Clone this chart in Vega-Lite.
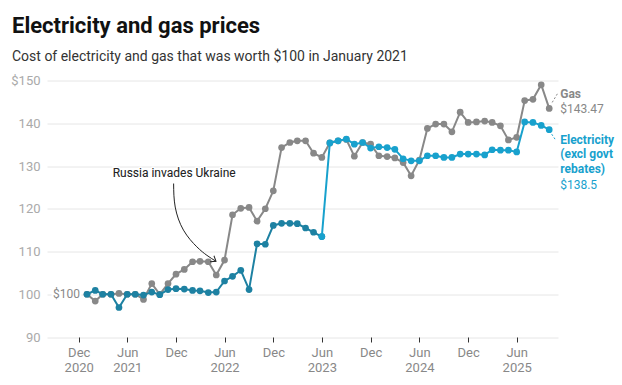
{
  "$schema": "https://vega.github.io/schema/vega-lite/v6.json",
  "width": 511,
  "height": 256.5,
  "autosize": {"type": "none"},
  "padding": {"left": 47, "top": 80.5, "right": 64, "bottom": 48},
  "background": "white",
  "config": {"font": "Roboto", "view": {"stroke": null}},
  "title": {
    "text": "Electricity and gas prices",
    "subtitle": "Cost of electricity and gas that was worth $100 in January 2021",
    "anchor": "start",
    "frame": "group",
    "dx": -35,
    "offset": 10,
    "font": "Roboto",
    "fontSize": 22,
    "fontWeight": "bold",
    "color": "#111111",
    "subtitleFont": "Roboto",
    "subtitleFontSize": 14,
    "subtitleColor": "#333333",
    "subtitlePadding": 12
  },
  "datasets": {
    "prices": [
      {"date": "2021-01-01T00:00", "series": "Gas", "value": 100},
      {"date": "2021-02-01T00:00", "series": "Gas", "value": 98.4},
      {"date": "2021-03-01T00:00", "series": "Gas", "value": 100},
      {"date": "2021-04-01T00:00", "series": "Gas", "value": 100},
      {"date": "2021-05-01T00:00", "series": "Gas", "value": 100.2},
      {"date": "2021-06-01T00:00", "series": "Gas", "value": 100},
      {"date": "2021-07-01T00:00", "series": "Gas", "value": 100},
      {"date": "2021-08-01T00:00", "series": "Gas", "value": 98.8},
      {"date": "2021-09-01T00:00", "series": "Gas", "value": 102.5},
      {"date": "2021-10-01T00:00", "series": "Gas", "value": 100},
      {"date": "2021-11-01T00:00", "series": "Gas", "value": 102.5},
      {"date": "2021-12-01T00:00", "series": "Gas", "value": 104.7},
      {"date": "2022-01-01T00:00", "series": "Gas", "value": 105.8},
      {"date": "2022-02-01T00:00", "series": "Gas", "value": 107.6},
      {"date": "2022-03-01T00:00", "series": "Gas", "value": 107.7},
      {"date": "2022-04-01T00:00", "series": "Gas", "value": 107.6},
      {"date": "2022-05-01T00:00", "series": "Gas", "value": 104.5},
      {"date": "2022-06-01T00:00", "series": "Gas", "value": 108},
      {"date": "2022-07-01T00:00", "series": "Gas", "value": 118.6},
      {"date": "2022-08-01T00:00", "series": "Gas", "value": 120.1},
      {"date": "2022-09-01T00:00", "series": "Gas", "value": 120.3},
      {"date": "2022-10-01T00:00", "series": "Gas", "value": 117.1},
      {"date": "2022-11-01T00:00", "series": "Gas", "value": 120},
      {"date": "2022-12-01T00:00", "series": "Gas", "value": 124.2},
      {"date": "2023-01-01T00:00", "series": "Gas", "value": 134.3},
      {"date": "2023-02-01T00:00", "series": "Gas", "value": 135.5},
      {"date": "2023-03-01T00:00", "series": "Gas", "value": 135.9},
      {"date": "2023-04-01T00:00", "series": "Gas", "value": 135.9},
      {"date": "2023-05-01T00:00", "series": "Gas", "value": 133},
      {"date": "2023-06-01T00:00", "series": "Gas", "value": 132},
      {"date": "2023-07-01T00:00", "series": "Gas", "value": 135.4},
      {"date": "2023-08-01T00:00", "series": "Gas", "value": 135.9},
      {"date": "2023-09-01T00:00", "series": "Gas", "value": 136.2},
      {"date": "2023-10-01T00:00", "series": "Gas", "value": 132.3},
      {"date": "2023-11-01T00:00", "series": "Gas", "value": 135.5},
      {"date": "2023-12-01T00:00", "series": "Gas", "value": 135.1},
      {"date": "2024-01-01T00:00", "series": "Gas", "value": 132.4},
      {"date": "2024-02-01T00:00", "series": "Gas", "value": 132.2},
      {"date": "2024-03-01T00:00", "series": "Gas", "value": 131.9},
      {"date": "2024-04-01T00:00", "series": "Gas", "value": 130.8},
      {"date": "2024-05-01T00:00", "series": "Gas", "value": 127.7},
      {"date": "2024-06-01T00:00", "series": "Gas", "value": 131.4},
      {"date": "2024-07-01T00:00", "series": "Gas", "value": 138.8},
      {"date": "2024-08-01T00:00", "series": "Gas", "value": 139.8},
      {"date": "2024-09-01T00:00", "series": "Gas", "value": 139.8},
      {"date": "2024-10-01T00:00", "series": "Gas", "value": 138},
      {"date": "2024-11-01T00:00", "series": "Gas", "value": 142.6},
      {"date": "2024-12-01T00:00", "series": "Gas", "value": 140.2},
      {"date": "2025-01-01T00:00", "series": "Gas", "value": 140.3},
      {"date": "2025-02-01T00:00", "series": "Gas", "value": 140.5},
      {"date": "2025-03-01T00:00", "series": "Gas", "value": 140.2},
      {"date": "2025-04-01T00:00", "series": "Gas", "value": 139.4},
      {"date": "2025-05-01T00:00", "series": "Gas", "value": 136.1},
      {"date": "2025-06-01T00:00", "series": "Gas", "value": 136.7},
      {"date": "2025-07-01T00:00", "series": "Gas", "value": 145.3},
      {"date": "2025-08-01T00:00", "series": "Gas", "value": 145.6},
      {"date": "2025-09-01T00:00", "series": "Gas", "value": 149},
      {"date": "2025-10-01T00:00", "series": "Gas", "value": 143.47},
      {"date": "2021-01-01T00:00", "series": "Electricity", "value": 100},
      {"date": "2021-02-01T00:00", "series": "Electricity", "value": 100.9},
      {"date": "2021-03-01T00:00", "series": "Electricity", "value": 100},
      {"date": "2021-04-01T00:00", "series": "Electricity", "value": 100},
      {"date": "2021-05-01T00:00", "series": "Electricity", "value": 96.9},
      {"date": "2021-06-01T00:00", "series": "Electricity", "value": 100},
      {"date": "2021-07-01T00:00", "series": "Electricity", "value": 100},
      {"date": "2021-08-01T00:00", "series": "Electricity", "value": 99.8},
      {"date": "2021-09-01T00:00", "series": "Electricity", "value": 100.5},
      {"date": "2021-10-01T00:00", "series": "Electricity", "value": 99.9},
      {"date": "2021-11-01T00:00", "series": "Electricity", "value": 101.1},
      {"date": "2021-12-01T00:00", "series": "Electricity", "value": 101.3},
      {"date": "2022-01-01T00:00", "series": "Electricity", "value": 101.2},
      {"date": "2022-02-01T00:00", "series": "Electricity", "value": 100.9},
      {"date": "2022-03-01T00:00", "series": "Electricity", "value": 100.8},
      {"date": "2022-04-01T00:00", "series": "Electricity", "value": 100.4},
      {"date": "2022-05-01T00:00", "series": "Electricity", "value": 100.5},
      {"date": "2022-06-01T00:00", "series": "Electricity", "value": 103.1},
      {"date": "2022-07-01T00:00", "series": "Electricity", "value": 104.2},
      {"date": "2022-08-01T00:00", "series": "Electricity", "value": 105.6},
      {"date": "2022-09-01T00:00", "series": "Electricity", "value": 101.1},
      {"date": "2022-10-01T00:00", "series": "Electricity", "value": 111.8},
      {"date": "2022-11-01T00:00", "series": "Electricity", "value": 111.7},
      {"date": "2022-12-01T00:00", "series": "Electricity", "value": 116.1},
      {"date": "2023-01-01T00:00", "series": "Electricity", "value": 116.6},
      {"date": "2023-02-01T00:00", "series": "Electricity", "value": 116.6},
      {"date": "2023-03-01T00:00", "series": "Electricity", "value": 116.5},
      {"date": "2023-04-01T00:00", "series": "Electricity", "value": 115.5},
      {"date": "2023-05-01T00:00", "series": "Electricity", "value": 114.5},
      {"date": "2023-06-01T00:00", "series": "Electricity", "value": 113.5},
      {"date": "2023-07-01T00:00", "series": "Electricity", "value": 135.4},
      {"date": "2023-08-01T00:00", "series": "Electricity", "value": 135.9},
      {"date": "2023-09-01T00:00", "series": "Electricity", "value": 136.3},
      {"date": "2023-10-01T00:00", "series": "Electricity", "value": 135.1},
      {"date": "2023-11-01T00:00", "series": "Electricity", "value": 135.5},
      {"date": "2023-12-01T00:00", "series": "Electricity", "value": 134.2},
      {"date": "2024-01-01T00:00", "series": "Electricity", "value": 134.5},
      {"date": "2024-02-01T00:00", "series": "Electricity", "value": 134.3},
      {"date": "2024-03-01T00:00", "series": "Electricity", "value": 133.9},
      {"date": "2024-04-01T00:00", "series": "Electricity", "value": 131.7},
      {"date": "2024-05-01T00:00", "series": "Electricity", "value": 131.2},
      {"date": "2024-06-01T00:00", "series": "Electricity", "value": 131.2},
      {"date": "2024-07-01T00:00", "series": "Electricity", "value": 132.4},
      {"date": "2024-08-01T00:00", "series": "Electricity", "value": 132.4},
      {"date": "2024-09-01T00:00", "series": "Electricity", "value": 132},
      {"date": "2024-10-01T00:00", "series": "Electricity", "value": 132},
      {"date": "2024-11-01T00:00", "series": "Electricity", "value": 132.8},
      {"date": "2024-12-01T00:00", "series": "Electricity", "value": 132.8},
      {"date": "2025-01-01T00:00", "series": "Electricity", "value": 132.8},
      {"date": "2025-02-01T00:00", "series": "Electricity", "value": 132.6},
      {"date": "2025-03-01T00:00", "series": "Electricity", "value": 133.8},
      {"date": "2025-04-01T00:00", "series": "Electricity", "value": 133.7},
      {"date": "2025-05-01T00:00", "series": "Electricity", "value": 133.7},
      {"date": "2025-06-01T00:00", "series": "Electricity", "value": 133.3},
      {"date": "2025-07-01T00:00", "series": "Electricity", "value": 140.3},
      {"date": "2025-08-01T00:00", "series": "Electricity", "value": 140.2},
      {"date": "2025-09-01T00:00", "series": "Electricity", "value": 139.5},
      {"date": "2025-10-01T00:00", "series": "Electricity", "value": 138.5}
    ],
    "arrow": [
      {"date": "2021-11-22T00:00", "value": 125.9},
      {"date": "2021-11-28T00:00", "value": 120.4},
      {"date": "2021-12-29T00:00", "value": 115.0},
      {"date": "2022-02-17T00:00", "value": 111.1},
      {"date": "2022-03-27T00:00", "value": 109.1},
      {"date": "2022-04-30T00:00", "value": 107.7}
    ],
    "arrowTip": [
      {"date": "2022-04-30T00:00", "value": 107.7}
    ],
    "note": [
      {"date": "2021-11-24T00:00", "value": 128.3, "text": "Russia invades Ukraine"}
    ]
  },
  "encoding": {
    "x": {
      "field": "date",
      "type": "temporal",
      "scale": {"domain": [{"year": 2020, "month": 8, "date": 4}, {"year": 2025, "month": 11, "date": 3}]},
      "axis": {
        "title": null,
        "orient": "bottom",
        "domain": false,
        "grid": false,
        "ticks": true,
        "tickColor": "#333333",
        "tickSize": 5,
        "tickWidth": 1,
        "labelColor": "#888888",
        "labelFontSize": 13,
        "labelPadding": 4,
        "labelLineHeight": 15,
        "labelBaseline": "top",
        "values": [
          {"year": 2020, "month": 12, "date": 1},
          {"year": 2021, "month": 6, "date": 1},
          {"year": 2021, "month": 12, "date": 1},
          {"year": 2022, "month": 6, "date": 1},
          {"year": 2022, "month": 12, "date": 1},
          {"year": 2023, "month": 6, "date": 1},
          {"year": 2023, "month": 12, "date": 1},
          {"year": 2024, "month": 6, "date": 1},
          {"year": 2024, "month": 12, "date": 1},
          {"year": 2025, "month": 6, "date": 1}
        ],
        "labelExpr": "month(datum.value) == 11 ? (year(datum.value) == 2020 ? ['Dec', '2020'] : 'Dec') : ['Jun', '' + year(datum.value)]"
      }
    },
    "y": {
      "field": "value",
      "type": "quantitative",
      "scale": {"domain": [90, 150], "nice": false, "zero": false},
      "axis": {
        "title": null,
        "domain": false,
        "ticks": false,
        "grid": true,
        "gridColor": "#e6e6e6",
        "gridWidth": 1,
        "labelColor": "#aaaaaa",
        "labelFontSize": 13,
        "labelPadding": 7,
        "values": [90, 100, 110, 120, 130, 140, 150],
        "labelExpr": "datum.value == 150 ? '$150' : datum.label"
      }
    }
  },
  "layer": [
    {
      "data": {"name": "prices"},
      "transform": [{"filter": {"field": "series", "equal": "Gas"}}],
      "mark": {"type": "line", "color": "#888888", "strokeWidth": 2, "point": {"filled": true, "size": 45, "color": "#888888", "opacity": 1}}
    },
    {
      "data": {"name": "prices"},
      "transform": [
        {"filter": {"field": "series", "equal": "Electricity"}},
        {"filter": {"field": "date", "lte": {"year": 2023, "month": 6, "date": 1}}}
      ],
      "mark": {"type": "line", "color": "#1d81a2", "strokeWidth": 2, "point": {"filled": true, "size": 45, "color": "#1d81a2", "opacity": 1}}
    },
    {
      "data": {"name": "prices"},
      "transform": [
        {"filter": {"field": "series", "equal": "Electricity"}},
        {"filter": {"field": "date", "gte": {"year": 2023, "month": 6, "date": 1}}}
      ],
      "mark": {"type": "line", "color": "#18a1cd", "strokeWidth": 2, "point": {"filled": true, "size": 45, "color": "#18a1cd", "opacity": 1}}
    },
    {
      "data": {"name": "arrow"},
      "mark": {"type": "line", "interpolate": "natural", "color": "#222222", "strokeWidth": 1}
    },
    {
      "data": {"name": "arrowTip"},
      "mark": {"type": "point", "shape": "M-1,-0.75L0,0L-1,0.75", "angle": 33, "size": 90, "filled": false, "stroke": "#222222", "strokeWidth": 1, "opacity": 1}
    },
    {
      "data": {"name": "note"},
      "mark": {"type": "text", "align": "center", "baseline": "middle", "fontSize": 12, "color": "#222222", "stroke": "white", "strokeWidth": 3, "strokeOpacity": 0.9},
      "encoding": {"text": {"field": "text"}}
    },
    {
      "data": {"name": "note"},
      "mark": {"type": "text", "align": "center", "baseline": "middle", "fontSize": 12, "color": "#222222"},
      "encoding": {"text": {"field": "text"}}
    },
    {
      "data": {"name": "prices"},
      "transform": [
        {"filter": {"field": "series", "equal": "Electricity"}},
        {"filter": {"field": "date", "lte": {"year": 2021, "month": 1, "date": 1}}}
      ],
      "mark": {"type": "text", "align": "right", "baseline": "middle", "dx": -7, "fontSize": 12, "color": "white", "stroke": "white", "strokeWidth": 4},
      "encoding": {"text": {"field": "value", "type": "quantitative", "format": "$.0f"}}
    },
    {
      "data": {"name": "prices"},
      "transform": [
        {"filter": {"field": "series", "equal": "Electricity"}},
        {"filter": {"field": "date", "lte": {"year": 2021, "month": 1, "date": 1}}}
      ],
      "mark": {"type": "text", "align": "right", "baseline": "middle", "dx": -7, "fontSize": 12, "color": "#888888"},
      "encoding": {"text": {"field": "value", "type": "quantitative", "format": "$.0f"}}
    },
    {
      "data": {"name": "prices"},
      "transform": [
        {"filter": {"field": "series", "equal": "Gas"}},
        {"filter": {"field": "date", "gte": {"year": 2025, "month": 10, "date": 1}}}
      ],
      "mark": {"type": "rule", "color": "#888888", "strokeWidth": 1, "strokeDash": [2, 2], "xOffset": 3, "yOffset": -6, "x2Offset": 9, "y2Offset": -16},
      "encoding": {"x2": {"field": "date"}, "y2": {"field": "value"}}
    },
    {
      "data": {"name": "prices"},
      "transform": [
        {"filter": {"field": "series", "equal": "Electricity"}},
        {"filter": {"field": "date", "gte": {"year": 2025, "month": 10, "date": 1}}}
      ],
      "mark": {"type": "rule", "color": "#18a1cd", "strokeWidth": 1, "strokeDash": [2, 2], "xOffset": 2.5, "yOffset": 4.5, "x2Offset": 6.5, "y2Offset": 10.5},
      "encoding": {"x2": {"field": "date"}, "y2": {"field": "value"}}
    },
    {
      "data": {"name": "prices"},
      "transform": [
        {"filter": {"field": "series", "equal": "Gas"}},
        {"filter": {"field": "date", "gte": {"year": 2025, "month": 10, "date": 1}}}
      ],
      "mark": {"type": "text", "align": "left", "baseline": "middle", "dx": 11, "dy": -14, "fontSize": 12, "fontWeight": "bold", "color": "#888888", "text": "Gas"}
    },
    {
      "data": {"name": "prices"},
      "transform": [
        {"filter": {"field": "series", "equal": "Gas"}},
        {"filter": {"field": "date", "gte": {"year": 2025, "month": 10, "date": 1}}}
      ],
      "mark": {"type": "text", "align": "left", "baseline": "middle", "dx": 11, "dy": 1, "fontSize": 12, "color": "#888888"},
      "encoding": {"text": {"field": "value", "type": "quantitative", "format": "$.2~f"}}
    },
    {
      "data": {"name": "prices"},
      "transform": [
        {"filter": {"field": "series", "equal": "Electricity"}},
        {"filter": {"field": "date", "gte": {"year": 2025, "month": 10, "date": 1}}}
      ],
      "mark": {"type": "text", "align": "left", "baseline": "top", "dx": 11, "dy": 5.5, "fontSize": 12, "lineHeight": 14.3, "fontWeight": "bold", "color": "#18a1cd", "text": ["Electricity", "(excl govt", "rebates)"]}
    },
    {
      "data": {"name": "prices"},
      "transform": [
        {"filter": {"field": "series", "equal": "Electricity"}},
        {"filter": {"field": "date", "gte": {"year": 2025, "month": 10, "date": 1}}}
      ],
      "mark": {"type": "text", "align": "left", "baseline": "middle", "dx": 11, "dy": 55.5, "fontSize": 12, "color": "#18a1cd"},
      "encoding": {"text": {"field": "value", "type": "quantitative", "format": "$.2~f"}}
    }
  ]
}
